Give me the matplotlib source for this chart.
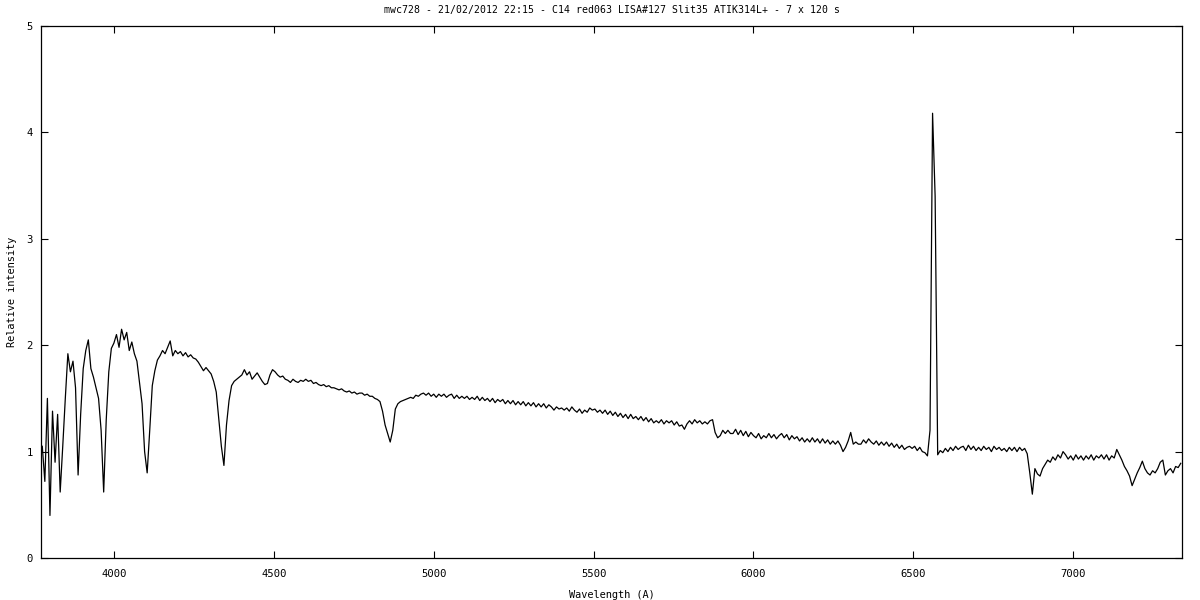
import numpy as np
import matplotlib
matplotlib.use("Agg")
import matplotlib.pyplot as plt

# spectrum sampled every 8 A from 3776 A to 7336 A
wl_start = 3776
wl_stop = 7336
wl_step = 8

flux = [
    1.05, 0.72, 1.50, 0.40, 1.38, 0.90, 1.35, 0.62, 1.05, 1.50,
    1.92, 1.75, 1.85, 1.60, 0.78, 1.35, 1.78, 1.95, 2.05, 1.78,
    1.70, 1.60, 1.50, 1.20, 0.62, 1.30, 1.75, 1.97, 2.02, 2.10,
    1.98, 2.15, 2.05, 2.12, 1.95, 2.03, 1.92, 1.85, 1.65, 1.45,
    1.00, 0.80, 1.20, 1.62, 1.76, 1.86, 1.90, 1.95, 1.92, 1.98,
    2.04, 1.90, 1.95, 1.92, 1.94, 1.90, 1.93, 1.89, 1.91, 1.88,
    1.87, 1.84, 1.80, 1.76, 1.79, 1.76, 1.73, 1.66, 1.56, 1.30,
    1.05, 0.87, 1.25, 1.48, 1.62, 1.66, 1.68, 1.70, 1.72, 1.77,
    1.72, 1.75, 1.68, 1.71, 1.74, 1.70, 1.66, 1.63, 1.64, 1.72,
    1.77, 1.75, 1.72, 1.70, 1.71, 1.68, 1.67, 1.65, 1.68, 1.66,
    1.65, 1.67, 1.66, 1.68, 1.66, 1.67, 1.64, 1.65, 1.63, 1.62,
    1.63, 1.61, 1.62, 1.60, 1.60, 1.59, 1.58, 1.59, 1.57, 1.56,
    1.57, 1.55, 1.56, 1.54, 1.55, 1.55, 1.53, 1.54, 1.52, 1.52,
    1.50, 1.49, 1.47, 1.38, 1.25, 1.17, 1.09, 1.20, 1.40, 1.45,
    1.47, 1.48, 1.49, 1.50, 1.51, 1.50, 1.53, 1.52, 1.54, 1.55,
    1.53, 1.55, 1.52, 1.54, 1.51, 1.54, 1.52, 1.54, 1.51, 1.53,
    1.54, 1.50, 1.53, 1.50, 1.52, 1.50, 1.52, 1.49, 1.51, 1.49,
    1.52, 1.48, 1.51, 1.48, 1.50, 1.47, 1.50, 1.46, 1.49, 1.47,
    1.49, 1.45, 1.48, 1.45, 1.48, 1.44, 1.47, 1.44, 1.47, 1.43,
    1.46, 1.43, 1.46, 1.42, 1.45, 1.42, 1.45, 1.41, 1.44, 1.42,
    1.39, 1.42, 1.40, 1.41, 1.39, 1.41, 1.38, 1.42, 1.39, 1.37,
    1.40, 1.36, 1.39, 1.37, 1.41, 1.39, 1.40, 1.37, 1.39, 1.36,
    1.39, 1.35, 1.38, 1.34, 1.37, 1.33, 1.36, 1.32, 1.35, 1.31,
    1.35, 1.31, 1.33, 1.30, 1.33, 1.29, 1.32, 1.28, 1.31, 1.27,
    1.29, 1.27, 1.30, 1.26, 1.29, 1.27, 1.29, 1.25, 1.28, 1.24,
    1.25, 1.21, 1.26, 1.29, 1.26, 1.30, 1.27, 1.29, 1.26, 1.28,
    1.26, 1.29, 1.30, 1.18, 1.13, 1.15, 1.20, 1.17, 1.20, 1.17,
    1.17, 1.21, 1.16, 1.20, 1.15, 1.19, 1.14, 1.18, 1.15, 1.13,
    1.17, 1.12, 1.15, 1.13, 1.17, 1.13, 1.16, 1.12, 1.15, 1.17,
    1.13, 1.16, 1.11, 1.15, 1.12, 1.14, 1.10, 1.13, 1.09, 1.12,
    1.09, 1.13, 1.09, 1.12, 1.08, 1.12, 1.08, 1.11, 1.07, 1.10,
    1.07, 1.10, 1.06, 1.00, 1.04, 1.10, 1.18, 1.07, 1.09, 1.07,
    1.07, 1.11, 1.08, 1.12, 1.09, 1.07, 1.10, 1.06, 1.09, 1.06,
    1.09, 1.05, 1.08, 1.04, 1.07, 1.03, 1.06, 1.02, 1.04, 1.05,
    1.03, 1.05, 1.01, 1.04, 1.00, 0.99, 0.96, 1.20, 4.18, 3.40,
    0.97, 1.01, 0.99, 1.03, 1.00, 1.04, 1.01, 1.05, 1.02, 1.04,
    1.05, 1.01, 1.06, 1.02, 1.05, 1.01, 1.04, 1.01, 1.05, 1.02,
    1.04, 1.00, 1.05, 1.02, 1.04, 1.01, 1.03, 1.00, 1.04, 1.01,
    1.04, 1.00, 1.04, 1.01, 1.03, 0.98, 0.80, 0.60, 0.84, 0.79,
    0.77, 0.84, 0.88, 0.92, 0.90, 0.95, 0.92, 0.97, 0.94, 1.00,
    0.97, 0.93, 0.96, 0.92, 0.97, 0.93, 0.96, 0.92, 0.96, 0.93,
    0.97, 0.92, 0.96, 0.94, 0.97, 0.93, 0.97, 0.92, 0.96, 0.94,
    1.02, 0.97, 0.92, 0.86, 0.82, 0.77, 0.68, 0.74, 0.80, 0.85,
    0.91, 0.84, 0.80, 0.78, 0.82, 0.80, 0.84, 0.90, 0.92, 0.78,
    0.82, 0.84, 0.80, 0.86, 0.85, 0.89,
]

x_ticks = [4000, 4500, 5000, 5500, 6000, 6500, 7000]
y_ticks = [0, 1, 2, 3, 4, 5]

title = "mwc728 - 21/02/2012 22:15 - C14 red063 LISA#127 Slit35 ATIK314L+ - 7 x 120 s"

wavelength = np.arange(wl_start, wl_stop + 1, wl_step)

plt.rcParams['font.family'] = ['DejaVu Sans Mono']
plt.rcParams['font.size'] = 7.4

fig = plt.figure(figsize=(12, 6), dpi=100)
ax = fig.add_axes([41 / 1200, 1 - 558 / 600, (1182 - 41) / 1200, (558 - 26) / 600])

ax.plot(wavelength, flux, color='black', lw=0.9)

ax.set_xlim(3772, 7340)
ax.set_ylim(0, 5)
ax.set_xticks(x_ticks)
ax.set_yticks(y_ticks)
ax.tick_params(direction='in', length=5, width=0.8, top=True, right=True,
               labelsize=7.6)
ax.tick_params(axis='x', pad=8)
ax.tick_params(axis='y', pad=6)
for s in ax.spines.values():
    s.set_linewidth(0.9)

ax.set_title(title, fontsize=7.1, pad=9)
ax.set_xlabel("Wavelength (A)", labelpad=8)
ax.set_ylabel("Relative intensity", labelpad=7)

fig.savefig('out.png', dpi=100)
